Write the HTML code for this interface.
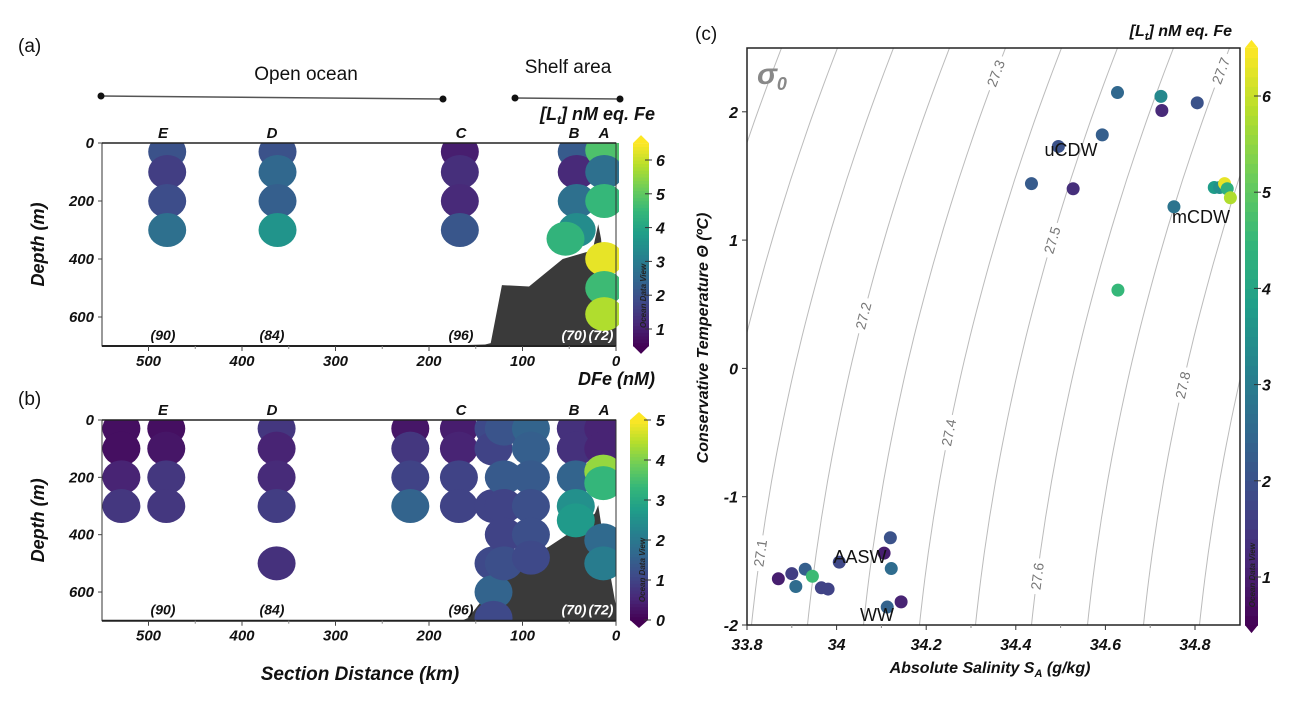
<!DOCTYPE html>
<html><head><meta charset="utf-8">
<style>
html,body{margin:0;padding:0;background:#fff;}
svg{display:block;font-family:"Liberation Sans",Arial,sans-serif;}
.tk{font-weight:bold;font-style:italic;font-size:15px;fill:#111;}
.tt{font-weight:bold;font-style:italic;fill:#111;}
</style></head>
<body>
<svg id="fig" width="1304" height="704" viewBox="0 0 1304 704">
<defs>
<clipPath id="clipA"><rect x="102" y="143" width="517" height="203"/></clipPath>
<clipPath id="clipB"><rect x="102" y="420" width="514" height="200"/></clipPath>
<clipPath id="clipC"><rect x="747" y="48" width="493" height="577"/></clipPath>
</defs>
<g id="gA"></g>
<g id="gB"></g>
<g id="gC"></g>
</svg>
<script>
// ---------- Panel (a) data : [Lt] ----------
const aKm    = [480,480,480,480, 362,362,362,362, 167,167,167,167, 42,42,42,42,54, 12.6,12.6,12.6,12.6,12.6,12.6];
const aDepth = [30,100,200,300, 30,100,200,300, 30,100,200,300, 30,100,200,300,330, 25,100,200,400,500,590];
const aVal   = [2.0,1.6,1.9,2.7, 2.0,2.5,2.3,3.6, 1.0,1.3,1.2,2.1, 2.2,1.2,2.7,3.4,4.4, 4.8,2.7,4.5,6.3,4.6,5.8];
const aBathyKm = [200,140,134,122,93,57,25,19,16,10,0,0];
const aBathyD  = [700,695,690,490,495,400,370,280,330,560,640,700];
// ---------- Panel (b) data : DFe ----------
const bKm    = [529,529,529,529, 481,481,481,481, 363,363,363,363,363, 220,220,220,220, 168,168,168,168, 131,131,131,131,131,131, 120,120,120,120,120, 91,91,91,91,91,91, 43,43,43,43,43, 13.6,13.6,13.6,13.6,13.6,13.6];
const bDepth = [30,100,200,300, 30,100,200,300, 30,100,200,300,500, 30,100,200,300, 30,100,200,300, 30,100,300,500,600,690, 30,200,300,400,500, 30,100,200,300,400,480, 30,100,200,300,350, 30,100,180,220,420,500,590].slice(0,52);
const bVal   = [0.2,0.2,0.5,0.8, 0.2,0.3,0.8,0.8, 0.8,0.5,0.6,0.9,0.7, 0.3,0.8,1.0,1.6, 0.4,0.5,1.0,1.0, 1.1,1.0,1.0,1.1,1.6,1.1, 1.3,1.4,1.0,1.0,1.2, 1.6,1.5,1.4,1.2,1.2,1.1, 0.7,0.7,1.6,2.5,2.7, 0.5,0.5,4.2,3.3,1.7,2.1,2.4];
const bBathyKm = [165,158,115,72,45,22.6,19,16,0,0];
const bBathyD  = [700,690,512,442,384,326,297,360,650,700];
// ---------- Panel (c) data : T-S ----------
const cSal  = [34.627,34.724,34.726,34.805,34.593,34.495,34.435,34.528,34.753,34.843,34.855,34.866,34.872,34.879,34.628,34.12,34.106,34.006,34.122,33.93,33.946,33.90,33.87,33.909,33.966,33.981,34.113,34.144];
const cTemp = [2.15,2.12,2.01,2.07,1.82,1.73,1.44,1.40,1.26,1.41,1.41,1.44,1.40,1.33,0.61,-1.32,-1.44,-1.51,-1.56,-1.565,-1.62,-1.60,-1.64,-1.70,-1.71,-1.72,-1.86,-1.82];
const cVal  = [2.5,3.3,1.2,2.0,2.3,2.0,2.2,1.3,2.8,3.8,3.5,6.3,4.3,5.8,4.5,2.0,1.0,1.8,2.6,2.3,4.6,1.6,1.0,2.6,1.7,1.7,2.4,1.1];
const sigmaLevels = [26.8,26.9,27.0,27.1,27.2,27.3,27.4,27.5,27.6,27.7,27.8,27.9,28.0];
const sigmaLabels = [27.1,27.2,27.3,27.4,27.5,27.6,27.7,27.8];
const sigmaLabelT = [-1.44,0.41,2.30,-0.5,1.0,-1.62,2.32,-0.13];
const abTicks = [500,400,300,200,100,0];
const depthTicks = [0,200,400,600];
const cXTicks = [33.8,34,34.2,34.4,34.6,34.8];
const cYTicks = [2,1,0,-1,-2];

const NS='http://www.w3.org/2000/svg';
function mk(tag,attrs,parent,text){const e=document.createElementNS(NS,tag);for(const k in attrs)e.setAttribute(k,attrs[k]);if(text!==undefined)e.textContent=text;parent.appendChild(e);return e;}
const vir=[[68,1,84],[72,40,120],[62,74,137],[49,104,142],[38,130,142],[31,158,137],[53,183,121],[109,205,89],[180,222,44],[253,231,37]];
function viridis(t){t=Math.max(0,Math.min(1,t));const f=t*9,i=Math.min(8,Math.floor(f)),r=f-i;const a=vir[i],b=vir[i+1];return 'rgb('+a.map((v,k)=>Math.round(v+(b[k]-v)*r)).join(',')+')';}

const xS=km=>616-km*0.935;
const yA=d=>143+d*0.29;
const yB=d=>420+d*0.2867;
const gA=document.getElementById('gA'),gB=document.getElementById('gB'),gC=document.getElementById('gC');

function sectionPanel(g,yF,top,km,dep,val,vmin,vmax,bk,bd,clip,prefix){
  const pts=bk.map((k,i)=>xS(k)+','+yF(bd[i])).join(' ');
  let e=mk('polygon',{points:pts,fill:'#3a3a3a','clip-path':'url(#'+clip+')'},g);
  
  
  const cg=mk('g',{'clip-path':'url(#'+clip+')'},g);
  km.forEach((k,i)=>{
    const c=mk('ellipse',{cx:xS(k),cy:yF(dep[i]),rx:19,ry:17,fill:viridis((val[i]-vmin)/(vmax-vmin))},cg);
    
    
  });
  const bot=yF(700);
  mk('rect',{x:102,y:top,width:514,height:bot-top,fill:'none',stroke:'#333','stroke-width':1},g);
  mk('line',{x1:102,y1:bot,x2:616,y2:bot,stroke:'#222','stroke-width':2},g);
  mk('line',{x1:102,y1:top,x2:616,y2:top,stroke:'#222','stroke-width':1.5},g);
  abTicks.forEach(t=>{mk('line',{x1:xS(t),y1:bot,x2:xS(t),y2:bot+5,stroke:'#444'},g);
    const l=mk('text',{x:xS(t),y:bot+20,'text-anchor':'middle',class:'tk'},g,String(t));
    
    });
  [450,350,250,150,50].forEach(t=>mk('line',{x1:xS(t),y1:bot,x2:xS(t),y2:bot+3,stroke:'#888'},g));
  depthTicks.forEach(t=>{mk('line',{x1:98,y1:yF(t),x2:102,y2:yF(t),stroke:'#444'},g);
    const l=mk('text',{x:94,y:yF(t)+5,'text-anchor':'end',class:'tk'},g,String(t));
    
    });
  const ty=(top+bot)/2;
  const yt=mk('text',{x:44,y:ty,transform:'rotate(-90 44 '+ty+')','text-anchor':'middle',class:'tt','font-size':'18'},g,'Depth (m)');
  
  
  [['E',163],['D',272],['C',461],['B',574],['A',604]].forEach(s=>{
    const t=mk('text',{x:s[1],y:top-5,'text-anchor':'middle',class:'tt','font-size':'15'},g,s[0]);
    
    });
  [['(90)',163,'#111'],['(84)',272,'#111'],['(96)',461,'#111'],['(70)',574,'#fff'],['(72)',601,'#fff']].forEach(s=>{
    const t=mk('text',{x:s[1],y:bot-6,'text-anchor':'middle',class:'tt','font-size':'14',fill:s[2],style:'fill:'+s[2]},g,s[0]);
    
    });
}
sectionPanel(gA,yA,143,aKm,aDepth,aVal,0.5,6.5,aBathyKm,aBathyD,'clipA','a');
sectionPanel(gB,yB,420,bKm,bDepth,bVal,0,5,bBathyKm,bBathyD,'clipB','b');

function colorbar(g,x,w,yOf,vlo,vhi,nmin,nmax,ticks,prefix,labelX){
  const n=60;const y0=yOf(vhi),y1=yOf(vlo);
  for(let i=0;i<n;i++){const v0=vlo+(vhi-vlo)*i/n,v1=vlo+(vhi-vlo)*(i+1)/n;
    mk('rect',{x:x,y:yOf(v1),width:w,height:yOf(v0)-yOf(v1)+0.6,fill:viridis(((v0+v1)/2-nmin)/(nmax-nmin))},g);}
  mk('polygon',{points:x+','+y0+' '+(x+w/2)+','+(y0-8)+' '+(x+w)+','+y0,fill:viridis(1)},g);
  mk('polygon',{points:x+','+y1+' '+(x+w/2)+','+(y1+8)+' '+(x+w)+','+y1,fill:viridis(0)},g);
  ticks.forEach(t=>{mk('line',{x1:x+w-4,y1:yOf(t),x2:x+w+3,y2:yOf(t),stroke:'#333'},g);
    const l=mk('text',{x:labelX,y:yOf(t)+6,class:'tt','font-size':'16'},g,String(t));
    
    });
  const cy=y1-50;
  mk('text',{x:x+w-3,y:cy,transform:'rotate(-90 '+(x+w-3)+' '+cy+')','text-anchor':'middle','font-size':'8','font-style':'italic','font-weight':'bold',fill:'#222'},g,'Ocean Data View');
}
colorbar(gA,633,16,v=>160+(6-v)*33.8,0.5,6.5,0.5,6.5,[1,2,3,4,5,6],'a',656);
colorbar(gB,630,18,v=>620-v*40,0,5,0,5,[0,1,2,3,4,5],'b',656);

// ---- headers ----
const hdr=mk('g',{},gA);
mk('text',{x:18,y:52,'font-size':'19',fill:'#111'},hdr,'(a)');
mk('text',{x:18,y:405,'font-size':'19',fill:'#111'},gB,'(b)');
mk('text',{x:306,y:80,'text-anchor':'middle','font-size':'19',fill:'#111'},hdr,'Open ocean');
mk('text',{x:568,y:73,'text-anchor':'middle','font-size':'19',fill:'#111'},hdr,'Shelf area');
mk('line',{x1:101,y1:96,x2:443,y2:99,stroke:'#555','stroke-width':1.5},hdr);
mk('line',{x1:515,y1:98,x2:620,y2:99,stroke:'#555','stroke-width':1.5},hdr);
[[101,96],[443,99],[515,98],[620,99]].forEach(p=>mk('circle',{cx:p[0],cy:p[1],r:3.5,fill:'#111'},hdr));
const lt=mk('text',{x:655,y:120,'text-anchor':'end',class:'tt','font-size':'18'},hdr);
lt.innerHTML='[L<tspan font-size="12" dy="4">t</tspan><tspan dy="-4">] nM eq. Fe</tspan>';


mk('text',{x:655,y:385,'text-anchor':'end',class:'tt','font-size':'18'},gB,'DFe (nM)');
mk('text',{x:360,y:680,'text-anchor':'middle',class:'tt','font-size':'19'},gB,'Section Distance (km)');

// ---------- Panel (c) ----------
const xC=s=>747+(s-33.8)*448;
const yC=t=>368.4-t*128.3;
function sOnSigma(sig,T){const u=T+2;return 33.81+(sig-27.1)/0.8+0.03*u+0.009*u*u;}
const cg=mk('g',{'clip-path':'url(#clipC)'},gC);
sigmaLevels.forEach(sig=>{
  let d='';for(let i=0;i<=50;i++){const T=-2.1+i*4.7/50;d+=(i?'L':'M')+xC(sOnSigma(sig,T)).toFixed(1)+','+yC(T).toFixed(1);}
  const p=mk('path',{d:d,fill:'none',stroke:'#bbb','stroke-width':1},cg);
  
  
});
sigmaLabels.forEach((sig,i)=>{
  const T=sigmaLabelT[i];const x=xC(sOnSigma(sig,T)),y=yC(T);
  const ds=(sOnSigma(sig,T+0.1)-sOnSigma(sig,T))*448, dy=-0.1*128.3;
  const ang=Math.atan2(dy,ds)*180/Math.PI;
  mk('rect',{x:x-18,y:y-8,width:36,height:16,fill:'#fff',transform:'rotate('+ang+' '+x+' '+y+')'},cg);
  const t=mk('text',{x:x,y:y+5,'text-anchor':'middle','font-size':'14',fill:'#777',transform:'rotate('+ang+' '+x+' '+y+')'},cg,sig.toFixed(1));
  
  
});
cSal.forEach((s,i)=>{
  const c=mk('circle',{cx:xC(s),cy:yC(cTemp[i]),r:6.5,fill:viridis((cVal[i]-0.5)/6)},cg);
  
  
});
mk('rect',{x:747,y:48,width:493,height:577,fill:'none',stroke:'#222','stroke-width':1.5},gC);
cXTicks.forEach(t=>{mk('line',{x1:xC(t),y1:625,x2:xC(t),y2:630,stroke:'#333'},gC);
  const l=mk('text',{x:xC(t),y:650,'text-anchor':'middle',class:'tt','font-size':'16'},gC,String(t));
  
  });
[33.9,34.1,34.3,34.5,34.7].forEach(t=>mk('line',{x1:xC(t),y1:625,x2:xC(t),y2:628,stroke:'#888'},gC));
cYTicks.forEach(t=>{mk('line',{x1:742,y1:yC(t),x2:747,y2:yC(t),stroke:'#333'},gC);
  const l=mk('text',{x:738,y:yC(t)+6,'text-anchor':'end',class:'tt','font-size':'16'},gC,String(t));
  
  });
mk('text',{x:695,y:40,'font-size':'19',fill:'#111'},gC,'(c)');
const sg=mk('text',{x:757,y:84,'font-size':'30','font-style':'italic','font-weight':'bold',fill:'#888'},gC);
sg.innerHTML='σ<tspan font-size="18" dy="6">0</tspan>';
[['uCDW',1071,156],['mCDW',1201,223],['AASW',860,563],['WW',877,621]].forEach(a=>mk('text',{x:a[1],y:a[2],'text-anchor':'middle','font-size':'18',fill:'#111'},gC,a[0]));
const yt=mk('text',{x:708,y:338,transform:'rotate(-90 708 338)','text-anchor':'middle',class:'tt','font-size':'16'},gC,'Conservative Temperature Θ (ºC)');


const xt=mk('text',{x:990,y:673,'text-anchor':'middle',class:'tt','font-size':'16'},gC);
xt.innerHTML='Absolute Salinity S<tspan font-size="11" dy="4">A</tspan><tspan dy="-4"> (g/kg)</tspan>';


const ct=mk('text',{x:1232,y:36,'text-anchor':'end',class:'tt','font-size':'16'},gC);
ct.innerHTML='[L<tspan font-size="11" dy="4">t</tspan><tspan dy="-4">] nM eq. Fe</tspan>';
colorbar(gC,1245,13,v=>577-(v-1)*96.2,0.5,6.5,0.5,6.5,[1,2,3,4,5,6],'c',1262);
</script>
</body></html>
